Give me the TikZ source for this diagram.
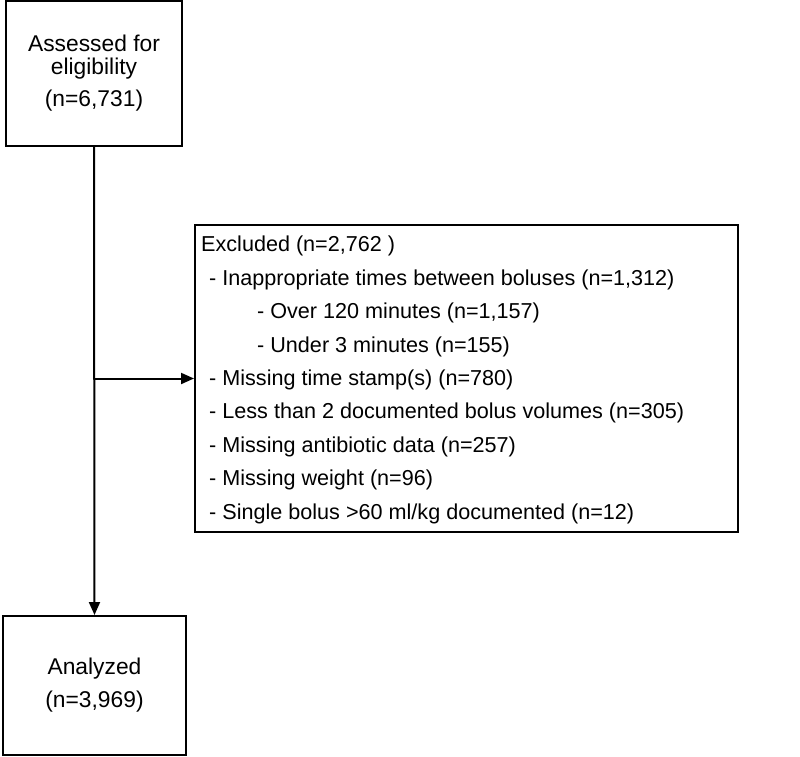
\documentclass[tikz,border=0pt]{standalone}
\usepackage{fontspec}
\setmainfont{Liberation Sans}
\usetikzlibrary{arrows.meta}
\begin{document}
\begin{tikzpicture}[x=1pt,y=-1pt,
  box/.style={draw,line width=2pt,rectangle,inner sep=0pt,align=center},
  arr/.style={line width=2pt,-{Triangle[length=13pt,width=11pt]}}]
\useasboundingbox (0,0) rectangle (800,757);
\node[box,minimum width=176pt,minimum height=145pt,font=\fontsize{22.8}{23}\selectfont] (top) at (94,73.5) {Assessed for\\eligibility\\[9pt](n=6,731)};
\node[box,minimum width=183pt,minimum height=139pt,font=\fontsize{22.8}{33}\selectfont] (bot) at (94.5,685.5) {\raisebox{-3pt}{Analyzed}\\\raisebox{-3pt}{(n=3,969)}};
\node[box,minimum width=543pt,minimum height=307pt] (excl) at (466.5,378.5) {};
\node[anchor=north west,inner sep=0pt,align=left,font=\fontsize{21.6}{33.4}\selectfont] (txt) at (201,236) {Excluded (n=2,762 )\\
\hspace{8pt}- Inappropriate times between boluses (n=1,312)\\
\hspace{56pt}- Over 120 minutes (n=1,157)\\
\hspace{56pt}- Under 3 minutes (n=155)\\
\hspace{8pt}- Missing time stamp(s) (n=780)\\
\hspace{8pt}- Less than 2 documented bolus volumes (n=305)\\
\hspace{8pt}- Missing antibiotic data (n=257)\\
\hspace{8pt}- Missing weight (n=96)\\
\hspace{8pt}- Single bolus >60 ml/kg documented (n=12)};
\coordinate (j) at (top.south |- excl.west);
\draw[arr] (top.south) -- (bot.north);
\draw[arr] (j) -- (excl.west);
\end{tikzpicture}
\end{document}
